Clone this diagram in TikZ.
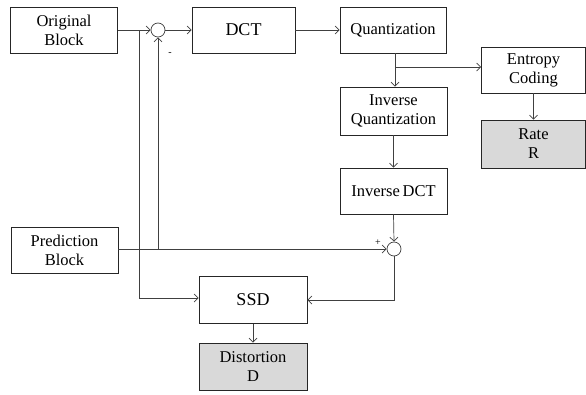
\documentclass[tikz,border=0pt]{standalone}
\usepackage{fontspec}
\setmainfont{Liberation Serif}
\usetikzlibrary{positioning,arrows.meta}

\begin{document}
\begin{tikzpicture}[
	x=1pt,y=-1pt,
	>={Straight Barb[length=4pt,width=8pt]},
	every node/.style={font=\fontsize{16.5}{19}\selectfont},
	block/.style={draw=black!85,line width=0.9pt,fill=white,minimum width=107pt,minimum height=46pt,align=center,inner sep=1pt},
	result/.style={block,fill=black!15},
	sum/.style={circle,draw=black!75,line width=0.7pt,fill=white,minimum size=14pt,inner sep=0pt},
	link/.style={draw=black!75,line width=0.7pt}
]
\useasboundingbox (0,0) rectangle (586,394);

% forward path
\node[block] (orig) at (64,30) {Original\\Block};
\node[sum] (sub) at (158,30) {};
\node[block,minimum width=103pt,font=\fontsize{18}{20}\selectfont] (dct) at (243.5,30) {DCT};
\node[block,minimum width=106pt] (quant) at (393,30) {Quantization};
\node[block,minimum width=104pt] (entropy) at (533.5,70) {Entropy\\Coding};
\node[result,minimum width=104pt,minimum height=48pt] (rate) at (533.5,144) {Rate\\R};

% reconstruction
\node[block,minimum height=48pt] (iquant) at (393.5,111) {Inverse\\Quantization};
\node[block] (idct) at (393.5,191) {Inverse\,DCT};
\node[sum] (add) at (394,249) {};
\node[block] (pred) at (64.5,250) {Prediction\\Block};

% distortion
\node[block,minimum width=108pt,minimum height=47pt,font=\fontsize{18}{20}\selectfont] (ssd) at (253,300) {SSD};
\node[result,minimum width=108pt,minimum height=47pt] (dist) at (253,366.5) {Distortion\\D};

\coordinate (b1) at (139,30);
\coordinate (b2) at (395,67);
\coordinate (b3) at (158,249);

\draw[link,->] (orig.east) -- (sub.west);
\draw[link,->] (sub.east) -- (dct.west);
\draw[link,->] (dct.east) -- (quant.west);
\draw[link,->] (quant.south -| b2) -- (iquant.north -| b2);
\draw[link,->] (b2) -- (b2 -| entropy.west);
\draw[link,->] (entropy.south) -- (rate.north);
\draw[link,->] (iquant.south) -- (idct.north);
\draw[link,->] (idct.south) -- (add.north);
\draw[link,->] (pred.east |- add) -- (add.west);
\draw[link,->] (b3) -- (sub.south);
\draw[link,->] (b1) |- ([yshift=2pt]ssd.west);
\draw[link,->] (add.south) |- (ssd.east);
\draw[link,->] (ssd.south) -- (dist.north);

\node[font=\normalsize] at (170,54) {-};
\node[font=\normalsize] at (378,243) {+};
\end{tikzpicture}
\end{document}
